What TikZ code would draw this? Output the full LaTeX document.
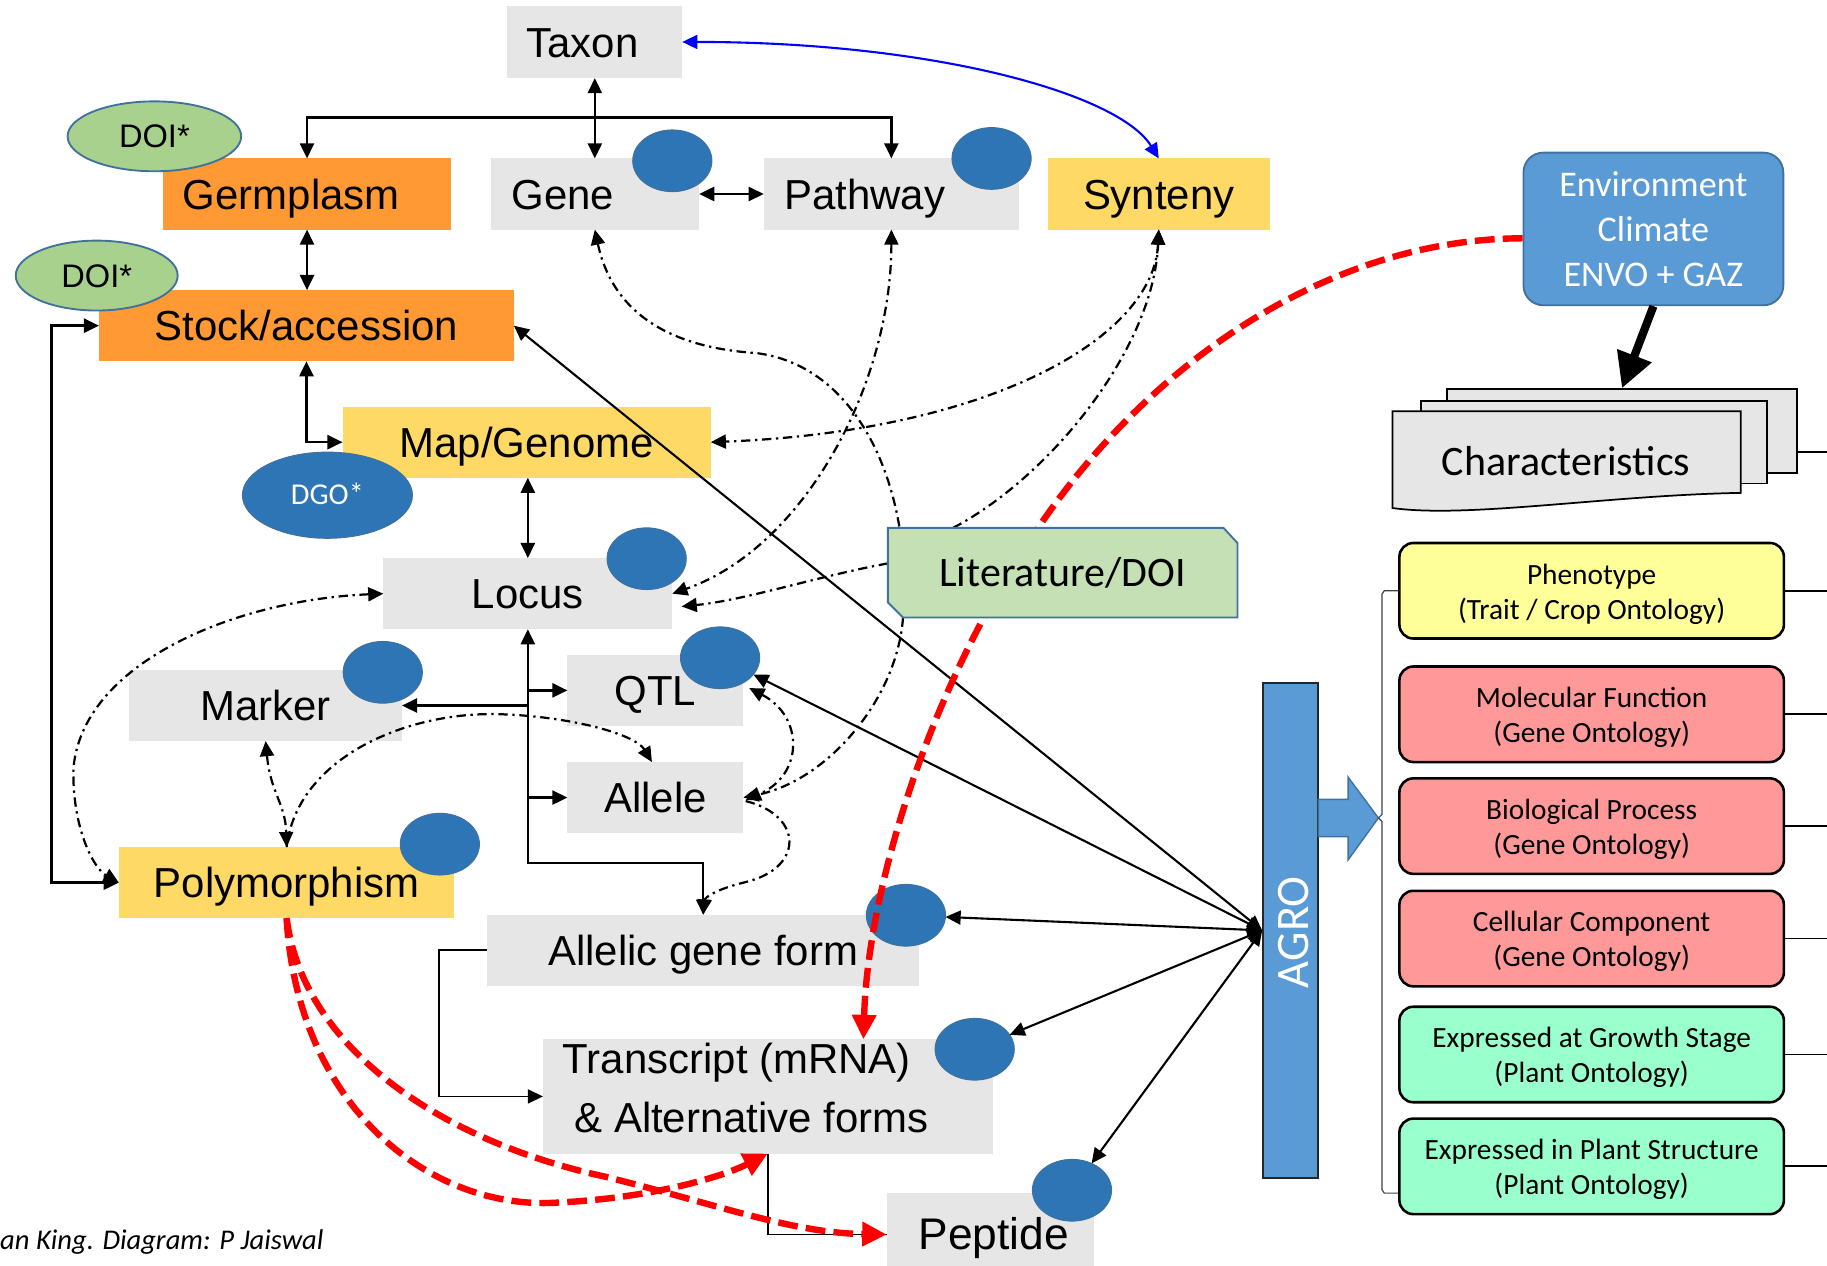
\documentclass[tikz,border=0pt]{standalone}
\usepackage{fontspec}
\setmainfont{Liberation Sans}
\newfontfamily\calfont{Carlito}
\usetikzlibrary{arrows.meta,shapes.geometric,calc}
\definecolor{boxgray}{HTML}{E6E6E6}
\definecolor{boxorange}{HTML}{FF9933}
\definecolor{boxyellow}{HTML}{FFD966}
\definecolor{dotblue}{HTML}{2E75B6}
\definecolor{dotedge}{HTML}{41719C}
\definecolor{doigreen}{HTML}{A9D18E}
\definecolor{litgreen}{HTML}{C5E0B4}
\definecolor{envblue}{HTML}{5B9BD5}
\definecolor{phenyellow}{HTML}{FFFF99}
\definecolor{gopink}{HTML}{FF9999}
\definecolor{pogreen}{HTML}{99FFCC}
\definecolor{darkline}{HTML}{404040}
\tikzset{
 tri/.tip={Triangle[length=13pt,width=12pt]},
 bigtri/.tip={Triangle[length=21pt,width=20pt]},
 envtip/.tip={Triangle[length=30pt,width=30pt]},
 box/.style={rectangle, inner sep=0pt, outer sep=0pt, font=\fontsize{36}{43}\selectfont, text height=26pt, text depth=0pt},
 graybox/.style={box, fill=boxgray},
 orangebox/.style={box, fill=boxorange},
 yellowbox/.style={box, fill=boxyellow},
 bluedot/.style={ellipse, fill=dotblue, draw=dotedge, line width=0.8pt, minimum width=68pt, minimum height=53pt, inner sep=0pt, outer sep=0pt},
 doiell/.style={ellipse, fill=doigreen, draw=dotedge, line width=1.6pt, inner sep=0pt, font=\fontsize{28}{30}\selectfont, text height=20pt, text depth=0pt},
 ontobox/.style={rectangle, rounded corners=12pt, draw=black, line width=2.2pt, minimum width=330pt, minimum height=82pt, inner sep=0pt, align=center, font=\calfont\fontsize{25.2}{30}\selectfont},
 link/.style={line width=2.2pt},
 agrolink/.style={line width=1.8pt, tri-tri},
 dashdot/.style={line width=1.9pt, dash pattern=on 8pt off 4pt on 2pt off 4pt},
 reddash/.style={draw=red, line width=5.5pt, dash pattern=on 17pt off 7pt},
 edgeline/.style={line width=1.5pt},
}
\begin{document}
\begin{tikzpicture}[x=1pt,y=-1pt]
\useasboundingbox (0,0) rectangle (1568,1086.5);
\coordinate (rightedge) at (1568,0);

% ---------- left diagram boxes ----------
\node[graybox, minimum width=150pt, minimum height=62pt] (taxon) at (510.5,36) {\hspace*{-21pt}Taxon};
\node[orangebox, minimum width=247pt, minimum height=61pt] (germ) at (263.5,166.5) {\hspace*{-27pt}Germplasm};
\node[graybox, minimum width=179pt, minimum height=61pt] (gene) at (510.5,166.5) {\hspace*{-55pt}Gene};
\node[graybox, minimum width=219pt, minimum height=61pt] (pathway) at (765,166.5) {\hspace*{-46pt}Pathway};
\node[yellowbox, minimum width=191pt, minimum height=61pt] (synteny) at (994.5,166.5) {Synteny};
\node[orangebox, minimum width=356pt, minimum height=61pt] (stock) at (263,279.5) {Stock/accession};
\node[yellowbox, minimum width=316pt, minimum height=61pt] (mapg) at (452,379.5) {Map/Genome};
\node[graybox, minimum width=248pt, minimum height=61pt] (locus) at (453,509.5) {Locus};
\node[graybox, minimum width=234pt, minimum height=61pt] (marker) at (228,605.5) {Marker};
\node[graybox, minimum width=151pt, minimum height=61pt] (qtl) at (562.5,592.5) {QTL};
\node[graybox, minimum width=151pt, minimum height=61pt] (allele) at (562.5,684.5) {Allele};
\node[yellowbox, minimum width=288pt, minimum height=61pt] (poly) at (246,757.5) {Polymorphism};
\node[graybox, minimum width=371pt, minimum height=61pt] (allelic) at (603.5,815.5) {Allelic gene form};
\node[graybox, minimum width=386pt, minimum height=98pt] (transcript) at (659,941) {};
\node[box, anchor=base west] (transcriptA) at (483,921) {Transcript (mRNA)};
\node[box, anchor=base west] (transcriptB) at (493,972) {\& Alternative forms};
\node[graybox, minimum width=178pt, minimum height=71pt, font=\fontsize{38}{43}\selectfont] (peptide) at (850,1059.5) {\hspace*{6pt}Peptide};

% ---------- dots and ellipses ----------
\node[bluedot] (genedot) at (577,138) {};
\node[bluedot] (pathdot) at (851,136) {};
\node[bluedot] (locusdot) at (555,479.5) {};
\node[bluedot] (markerdot) at (328.5,577) {};
\node[bluedot] (qtldot) at (618,564.5) {};
\node[bluedot] (polydot) at (377.5,724.5) {};
\node[bluedot] (allelicdot) at (777.5,785.5) {};
\node[bluedot] (transdot) at (836.5,900.5) {};
\node[bluedot] (pepdot) at (920,1021.5) {};
\node[doiell, minimum width=149pt, minimum height=60pt] (doiA) at (132.5,117) {DOI*};
\node[doiell, minimum width=139pt, minimum height=60pt] (doiB) at (83,236.5) {DOI*};
\node[ellipse, fill=dotblue, draw=dotedge, line width=0.8pt, minimum width=146pt, minimum height=74pt, inner sep=0pt, text=white, font=\calfont\fontsize{26}{28}\selectfont, text height=16.5pt, text depth=0pt] (dgo) at (281,425) {DGO*};

% ---------- right side ----------
\node[rectangle, rounded corners=17pt, fill=envblue, draw=dotedge, line width=1.6pt, minimum width=223pt, minimum height=131pt, inner sep=0pt, align=center, text=white, font=\calfont\fontsize{31}{38.6}\selectfont] (env) at (1419,196.5) {Environment\\Climate\\ENVO + GAZ};

\node[rectangle, fill=boxgray, draw=black, line width=1.5pt, minimum width=300pt, minimum height=72pt, inner sep=0pt] (docC) at (1392,370) {};
\node[rectangle, fill=boxgray, draw=black, line width=1.5pt, minimum width=297pt, minimum height=71pt, inner sep=0pt] (docB) at (1368,379.5) {};
\draw[fill=boxgray, draw=black, line width=1.5pt] (1195,353) -- (1494,353) -- (1494,423) .. controls (1380,425) and (1260,445) .. (1195,436) -- cycle;
\node[font=\calfont\fontsize{36}{40}\selectfont, anchor=base, inner sep=0pt] (charT) at (1344,407.7) {Characteristics};
\draw[edgeline] ($(docC.east)+(0,17.7)$) -- ($(docC.east -| rightedge)+(0,17.7)$);

\node[rectangle, fill=envblue, draw=black!85, line width=1.5pt, minimum width=47pt, minimum height=425pt, inner sep=0pt] (agro) at (1107.5,798.5) {};
\node[rotate=90, text=white, font=\calfont\fontsize{40}{44}\selectfont, text height=26pt, text depth=0pt, inner sep=0pt] (agroT) at (1110,800) {AGRO};
\draw[fill=envblue, draw=dotedge, line width=1.2pt] (1131.5,686) -- (1157,686) -- (1157,667) -- (1183,702) -- (1157,738) -- (1157,718) -- (1131.5,718) -- cycle;

\node[ontobox, fill=phenyellow] (phen) at (1366,507) {\rule{0pt}{23pt}Phenotype\\(Trait / Crop Ontology)};
\node[ontobox, fill=gopink] (molf) at (1366,613) {\rule{0pt}{23pt}Molecular Function\\(Gene Ontology)};
\node[ontobox, fill=gopink] (biop) at (1366,709) {\rule{0pt}{23pt}Biological Process\\(Gene Ontology)};
\node[ontobox, fill=gopink] (cellc) at (1366,805.5) {\rule{0pt}{23pt}Cellular Component\\(Gene Ontology)};
\node[ontobox, fill=pogreen] (grow) at (1366,905) {\rule{0pt}{23pt}Expressed at Growth Stage\\(Plant Ontology)};
\node[ontobox, fill=pogreen] (struct) at (1366,1001) {\rule{0pt}{23pt}Expressed in Plant Structure\\(Plant Ontology)};
\foreach \b in {phen,molf,biop,cellc,grow,struct}{
  \draw[edgeline] (\b.east) -- (\b.east -| rightedge);
}
\draw[line width=1pt, draw=darkline] (phen.west) -- (1188,507) -- (1186,510) -- (1186,699) -- (1183,702) -- (1186,705) -- (1186,1021) -- (1188,1024) -- ($(struct.west)+(0,23)$);

% ---------- literature anchor (drawn later) ----------
\node[rectangle, minimum width=300pt, minimum height=77pt, inner sep=0pt, outer sep=0pt] (lit) at (912,491.5) {};
\coordinate (litA) at ($(lit.north west)+(10,0)$);
\coordinate (litB) at ($(lit.north west)+(56,0)$);
\coordinate (litC) at ($(lit.west)+(0,-8)$);
\coordinate (litD) at ($(lit.south west)+(13,0)$);

% ---------- dash-dot connectors ----------
\draw[dashdot, tri-] (gene.south) .. controls (525,265) and (570,298) .. (649,303) .. controls (720,312) and (760,380) .. (litA);
\draw[dashdot, tri-tri] (pathway.south) .. controls (765,330) and (690,470) .. (locus.east);
\draw[dashdot, -tri] (litC) .. controls (700,495) and (640,515) .. ($(locus.east)+(8,11)$);
\draw[dashdot, tri-tri] (synteny.south) .. controls (990,290) and (850,370) .. (mapg.east);
\draw[dashdot, -tri] (litB) .. controls (900,410) and (990,300) .. (synteny.south);
\draw[dashdot, -tri] (litD) .. controls (770,600) and (710,670) .. (allele.east);
\draw[dashdot, tri-tri] ($(qtl.east)+(5,-2)$) .. controls (690,615) and (690,665) .. ($(allele.east)+(2,2)$);
\draw[dashdot, -tri] ($(allele.east)+(2,3)$) .. controls (690,700) and (690,745) .. (640,757) .. controls (615,763) and (605,770) .. (allelic.north);
\draw[dashdot, tri-tri] (locus.west) .. controls (200,515) and (70,570) .. (63,660) .. controls (62,710) and (80,745) .. (poly.west);
\draw[dashdot, tri-tri] (marker.south) .. controls (232,680) and (245,690) .. (poly.north);
\draw[dashdot, -tri] (poly.north) .. controls (255,650) and (350,610) .. (430,613) .. controls (490,615) and (545,630) .. ($(allele.north)+(-3,0)$);

% ---------- solid connectors ----------
\coordinate (tbar) at (510.5,101);
\draw[link, tri-tri] (taxon.south) -- (gene.north);
\draw[link, tri-tri] (germ.north) |- (tbar) -| (pathway.north);
\draw[link, tri-tri] (gene.east) -- (pathway.west);
\draw[link, tri-tri] (germ.south) -- (germ.south |- stock.north);
\draw[link, tri-tri] (stock.south) |- (mapg.west);
\draw[link, tri-tri] (locus.north |- mapg.south) -- (locus.north);
\draw[link, tri-tri] (poly.west) -- ++(-58,0) |- (stock.west);
\draw[link, tri-tri] (locus.south) -- ++(0,200.5) -| (allelic.north);
\draw[link, -tri] (locus.south |- marker.east) -- (marker.east);
\draw[link, -tri] (locus.south |- qtl.west) -- (qtl.west);
\draw[link, -tri] (locus.south |- allele.west) -- (allele.west);
\draw[link, line width=1.6pt, -tri] (allelic.west) -- ++(-41,0) |- (transcript.west);
\draw[link, line width=1.6pt] (transcript.south) |- (peptide.west);

\draw[agrolink] (stock.east) -- (agro.west);
\draw[agrolink] (qtldot) -- (agro.west);
\draw[agrolink] (allelicdot) -- (agro.west);
\draw[agrolink] (transdot) -- (agro.west);
\draw[agrolink] (pepdot) -- (agro.west);

\draw[line width=7pt, -envtip] (env.south) -- (docC.north);
\draw[blue, line width=1.8pt, tri-tri] (taxon.east) .. controls (800,36) and (960,80) .. (synteny.north);

% ---------- red dashed ----------
\draw[reddash, -bigtri] ($(env.west)+(0,8)$) .. controls (1150,205) and (1000,300) .. (900,440) .. controls (800,580) and (745,760) .. ($(transcript.north)+(82,0)$);
\draw[reddash, -bigtri] (poly.south) .. controls (255,950) and (370,1040) .. (480,1032) .. controls (560,1028) and (620,1010) .. (transcript.south);
\draw[reddash, -bigtri] (poly.south) .. controls (260,900) and (380,980) .. (520,1010) .. controls (620,1035) and (680,1058) .. (peptide.west);

% ---------- literature box on top ----------
\draw[fill=litgreen, draw=dotedge, line width=1.6pt] (lit.north west) -- ($(lit.north east)+(-12,0)$) -- ($(lit.north east)+(0,13)$) -- (lit.south east) -- ($(lit.south west)+(13,0)$) -- ($(lit.south west)+(0,-13)$) -- cycle;
\node[font=\calfont\fontsize{36}{40}\selectfont, anchor=base, inner sep=0pt] (litT) at (912,503.5) {Literature/DOI};

% ---------- credit ----------
\node[font=\calfont\itshape\fontsize{24.5}{28}\selectfont, anchor=base west, inner sep=0pt] (credit) at (0,1072.6) {an King. Diagram: P Jaiswal};
\end{tikzpicture}
\end{document}
